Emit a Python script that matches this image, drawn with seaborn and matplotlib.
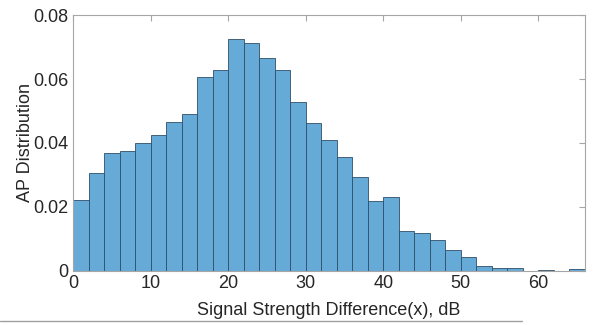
import numpy as np
import pandas as pd
import matplotlib.pyplot as plt
import matplotlib.lines as mlines
import seaborn as sns

# histogram of AP signal strength differences (bin width 2 dB)
bin_edges = list(range(0, 68, 2))
ap_density = [0.0222, 0.0305, 0.0368, 0.0375, 0.0399, 0.0424, 0.0466, 0.0490,
              0.0605, 0.0628, 0.0724, 0.0711, 0.0665, 0.0627, 0.0527, 0.0464,
              0.0408, 0.0357, 0.0295, 0.0219, 0.0230, 0.0125, 0.0118, 0.0096,
              0.0067, 0.0043, 0.0016, 0.0009, 0.0009, 0.0, 0.0003, 0.0, 0.0006]
bin_centers = [e + 1 for e in bin_edges[:-1]]

df = pd.DataFrame({'diff': bin_centers, 'density': ap_density})

sns.set_style('white')
plt.rcParams['font.family'] = ['Liberation Sans', 'DejaVu Sans']

fig = plt.figure(figsize=(5.94, 3.25), dpi=100)
ax = fig.add_axes([0.1229, 0.1662, 0.9848 - 0.1229, 0.9538 - 0.1662])

sns.histplot(data=df, x='diff', weights='density', bins=bin_edges, ax=ax,
             color='#66aad7', alpha=1, edgecolor='#2f4f68', linewidth=0.6)

ax.set_xlim(0, 66)
ax.set_ylim(0, 0.08)
ax.set_xticks(range(0, 61, 10))
ax.set_yticks([0, 0.02, 0.04, 0.06, 0.08])
ax.set_yticklabels(['0', '0.02', '0.04', '0.06', '0.08'])
ax.tick_params(direction='in', length=4, width=0.8, color='#a6a6a6',
               labelsize=13, labelcolor='#262626', top=True, right=True, pad=3)
for s in ax.spines.values():
    s.set_color('#a6a6a6')
    s.set_linewidth(0.8)

ax.set_xlabel('Signal Strength Difference(x), dB', fontsize=13, color='#262626', labelpad=7)
ax.set_ylabel('AP Distribution', fontsize=13, color='#262626', labelpad=0)

# thin gray rule along the bottom of the image
fig.add_artist(mlines.Line2D([0, 522 / 594], [1 - 321 / 325] * 2,
                             color='#a0a0a0', lw=1, transform=fig.transFigure))

fig.savefig('out.png', dpi=100)
